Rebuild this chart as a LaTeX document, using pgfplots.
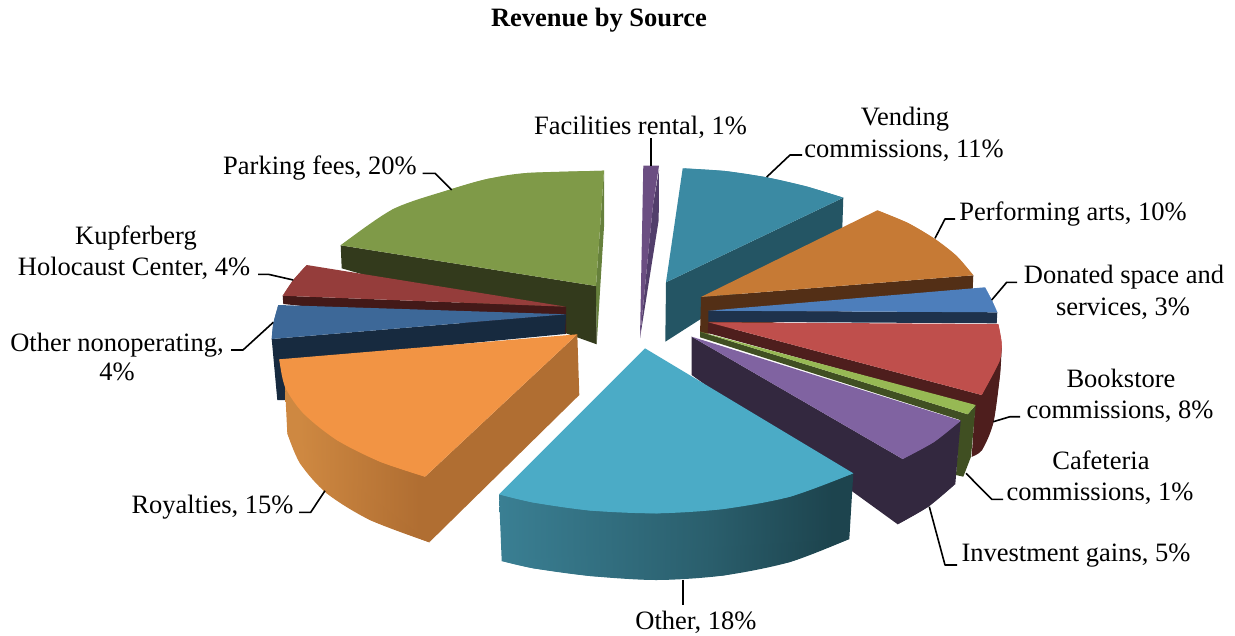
\documentclass[border=0pt]{standalone}
\usepackage{fontspec}
\setmainfont{Liberation Serif}
\usepackage{pgfplots}
\pgfplotsset{compat=1.18}

\definecolor{parkT}{HTML}{7F9A48}
\definecolor{parkS}{HTML}{333A1C}
\definecolor{parkE}{HTML}{66803C}
\definecolor{kupfT}{HTML}{953D3B}
\definecolor{kupfS}{HTML}{431918}
\definecolor{nonoT}{HTML}{3D6898}
\definecolor{nonoS}{HTML}{172A3F}
\definecolor{royaT}{HTML}{F29444}
\definecolor{royaS}{HTML}{B06E32}
\definecolor{factT}{HTML}{6B4E82}
\definecolor{factS}{HTML}{523E6B}
\definecolor{vendT}{HTML}{3B8AA3}
\definecolor{vendS}{HTML}{245564}
\definecolor{perfT}{HTML}{C67A35}
\definecolor{perfS}{HTML}{532F16}
\definecolor{donaT}{HTML}{4D7EBB}
\definecolor{donaS}{HTML}{1E324C}
\definecolor{bookT}{HTML}{BF4F4C}
\definecolor{bookS}{HTML}{4E1E1D}
\definecolor{cafeT}{HTML}{97B954}
\definecolor{cafeS}{HTML}{404F22}
\definecolor{inveT}{HTML}{8063A1}
\definecolor{inveS}{HTML}{33283F}
\definecolor{otheT}{HTML}{4BABC6}
\definecolor{otheA}{HTML}{3A7F93}
\definecolor{otheB}{HTML}{2A5E6C}
\definecolor{otheC}{HTML}{1D444E}
\definecolor{otheD}{HTML}{204852}
\definecolor{royaA}{HTML}{CE8841}
\definecolor{royaB}{HTML}{B06E32}

% curved outer walls
\pgfdeclarehorizontalshading{otherwall}{100bp}{
  color(0bp)=(otheA);
  color(25bp)=(otheA);
  color(55bp)=(otheB);
  color(72bp)=(otheC);
  color(100bp)=(otheD)}
\pgfdeclarehorizontalshading{royawall}{100bp}{
  color(0bp)=(royaA);
  color(30bp)=(royaA);
  color(70bp)=(royaB);
  color(100bp)=(royaB)}

% \face is the polygon, \arccap rounds off its outer edge
\newcommand{\face}[2]{\addplot[fill=#1,draw=none] coordinates {#2} -- cycle;}
\newcommand{\arccap}[2]{\addplot[fill=#1,draw=none,smooth] coordinates {#2} -- cycle;}
\newcommand{\leader}[1]{\addplot[black,line width=1.6pt,line join=round] coordinates {#1};}
\newcommand{\lab}[3]{\node[anchor=base,inner sep=0pt] at (axis cs:#1,#2) {#3};}

\begin{document}
\begin{tikzpicture}
\begin{axis}[
    width=1235pt, height=635pt, scale only axis,
    xmin=0, xmax=1235, ymin=0, ymax=635,
    y dir=reverse,
    hide axis, clip=false,
    nodes={font=\fontsize{26.5}{31}\selectfont},
]
\path (axis cs:0,0) rectangle (axis cs:1235,635);

% Parking fees
\face{parkE}{(604,170.7) (604,226.7) (596.7,344.3) (596,286)}
\face{parkS}{(340.7,245.3) (341.7,268.3) (566,333.3) (596.7,344.3) (596,286)}
\face{parkT}{(604,170.7) (526.7,173) (487,179) (451.7,189) (393.3,209) (340.7,245.3) (596,286)}
\arccap{parkT}{(604,170.7) (526.7,173) (487,179) (451.7,189) (393.3,209) (340.7,245.3)}

% Kupferberg Holocaust Center
\face{kupfS}{(282.7,295.7) (283.3,304) (566,334) (566,306.7)}
\face{kupfT}{(566,306.7) (306.7,265) (293.3,280) (282.7,295.7)}
\arccap{kupfT}{(306.7,265) (293.3,280) (282.7,295.7)}

% Other nonoperating
\face{nonoS}{(566,314.3) (271.7,339) (277.3,400) (295,400) (295,360) (565,334)}
\face{nonoT}{(566,314.3) (271.7,339) (273.3,323.3) (278.3,305)}
\arccap{nonoT}{(271.7,339) (273.3,323.3) (278.3,305)}

% Royalties
\addplot[shading=royawall,shading angle=0,draw=none] coordinates {(285,386.7) (287.3,433.3) (300,463.3) (326.7,493.3) (370,520) (429.3,542.3) (434,500) (425,476.7)} -- cycle;
\addplot[shading=royawall,shading angle=0,draw=none,smooth] coordinates {(287.3,433.3) (300,463.3) (326.7,493.3) (370,520) (429.3,542.3)} -- cycle;
\face{royaS}{(577.3,334.3) (579.3,395) (429.3,542.3) (425,476.7)}
\face{royaT}{(577.3,334.3) (279.3,359.3) (285,386.7) (303.3,413.3) (336.7,440) (380,461.7) (425,476.7)}
\arccap{royaT}{(279.3,359.3) (285,386.7) (303.3,413.3) (336.7,440) (380,461.7) (425,476.7)}

% Facilities rental
\face{factS}{(659,170) (658.7,220) (640,338) (653,205)}
\face{factT}{(643.3,165.7) (659,165.7) (653,205) (640,338)}

% Vending commissions
\face{vendS}{(843.3,197.7) (842.3,228.3) (665.3,341.7) (666,282.3)}
\face{vendT}{(682.7,168.3) (725,171) (766.7,177.3) (806.7,186.5) (843.3,197.7) (666,282.3)}
\arccap{vendT}{(682.7,168.3) (725,171) (766.7,177.3) (806.7,186.5) (843.3,197.7)}

% Performing arts
\face{perfS}{(701,297) (973.3,275.3) (972.7,289) (700,335)}
\face{perfT}{(701,297) (877.3,210.3) (908,223) (935,239) (956.7,256) (973.3,275.3)}
\arccap{perfT}{(877.3,210.3) (908,223) (935,239) (956.7,256) (973.3,275.3)}

% Donated space and services
\face{donaS}{(997.3,312.3) (996.7,323.3) (708.3,321.7) (708.3,310.7)}
\face{donaT}{(708.3,310.7) (985,287.3) (991.7,300) (997.3,312.3)}
\arccap{donaT}{(985,287.3) (991.7,300) (997.3,312.3)}

% Bookstore commissions
\face{bookS}{(708.3,322.3) (981.7,395) (1001.7,345) (1000,375) (993.3,423) (982,450) (971.7,456.7) (975,406) (707.7,333)}
\arccap{bookS}{(1001.7,345) (1000,375) (993.3,423) (982,450) (971.7,456.7)}
\face{bookT}{(708.3,322.3) (998.3,324) (1001.7,343.3) (999.3,361.7) (981.7,395)}
\arccap{bookT}{(998.3,324) (1001.7,343.3) (999.3,361.7) (981.7,395)}

% Cafeteria commissions
\face{cafeS}{(700,331.7) (967.7,414.3) (975.7,405) (971,456.7) (963.3,476.7) (956,475) (960,420) (700,337.3)}
\face{cafeT}{(700,331.7) (975.7,405) (967.7,414.3)}

% Investment gains
\face{inveS}{(691.7,336.7) (902.7,459) (960.7,420.7) (955.3,484) (928.3,506.7) (897.7,524.3) (691.7,375)}
\arccap{inveS}{(955.3,484) (928.3,506.7) (897.7,524.3)}
\face{inveT}{(691.7,336.7) (960.7,420.7) (934,442) (902.7,459)}
\arccap{inveT}{(960.7,420.7) (934,442) (902.7,459)}

% Other
\addplot[shading=otherwall,shading angle=0,draw=none] coordinates {(499,494.3) (501.7,561) (533.3,568.3) (590,576) (656.7,580) (723.3,575.5) (790,562) (849.3,539) (853.3,473.3)} -- cycle;
\addplot[shading=otherwall,shading angle=0,draw=none,smooth] coordinates {(501.7,561) (533.3,568.3) (590,576) (656.7,580) (723.3,575.5) (790,562) (849.3,539)} -- cycle;
\face{otheT}{(645,348.3) (853.3,473.3) (790,496.7) (723.3,509) (656.7,513.3) (590,510.5) (533.3,502.5) (499,494.3)}
\arccap{otheT}{(853.3,473.3) (790,496.7) (723.3,509) (656.7,513.3) (590,510.5) (533.3,502.5) (499,494.3)}

% leader lines
\leader{(651,138) (651,166)}
\leader{(766.7,177) (790,155) (802,155)}
\leader{(935,238.3) (945,219) (955,219)}
\leader{(991.7,300) (1006.7,282.3) (1017,282.3)}
\leader{(993.3,421.7) (1010,416.7) (1020,416.7)}
\leader{(966,473.3) (991.7,499.3) (1003,499.3)}
\leader{(929.3,506.7) (945,565) (957,565)}
\leader{(683,580) (683,605)}
\leader{(325,490.7) (310.7,512.3) (299,512.3)}
\leader{(273.3,322.3) (243,350) (231,350)}
\leader{(293.3,280) (268.3,274.3) (258,274.3)}
\leader{(451.7,190) (435,173.3) (422.7,173.3)}

% labels
\node[anchor=base,inner sep=0pt,font=\fontsize{26.5}{31}\selectfont\bfseries] at (axis cs:599,26) {Revenue by Source};
\lab{640.5}{134}{Facilities rental, 1\%}
\lab{905}{125}{Vending}
\lab{904}{157}{commissions, 11\%}
\lab{1073}{220}{Performing arts, 10\%}
\lab{1124}{283.5}{Donated space and}
\lab{1123}{315}{services, 3\%}
\lab{1121}{387}{Bookstore}
\lab{1120}{418}{commissions, 8\%}
\lab{1101}{469}{Cafeteria}
\lab{1100}{500}{commissions, 1\%}
\lab{1076}{561}{Investment gains, 5\%}
\lab{696}{629}{Other, 18\%}
\lab{212.5}{513}{Royalties, 15\%}
\lab{117}{351}{Other nonoperating,}
\lab{117}{380}{4\%}
\lab{136}{244}{Kupferberg}
\lab{134}{275}{Holocaust Center, 4\%}
\lab{320}{174}{Parking fees, 20\%}
\end{axis}
\end{tikzpicture}
\end{document}
